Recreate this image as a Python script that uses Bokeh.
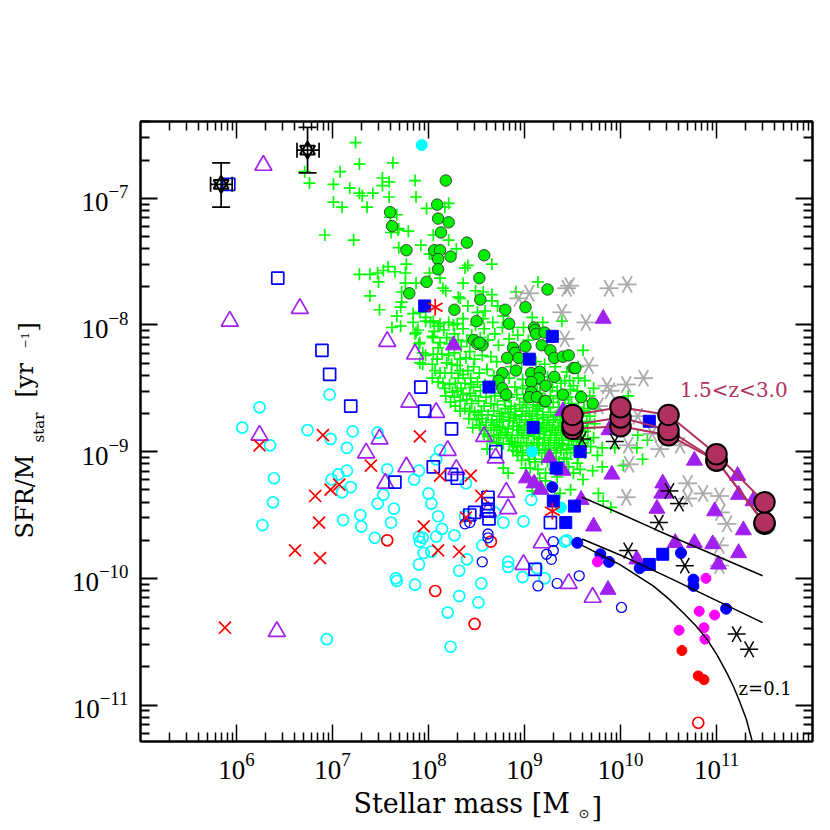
from math import pi
from bokeh.plotting import figure
from bokeh.models import FixedTicker, LogAxis, Label
from bokeh.embed import file_html
from bokeh.resources import INLINE

# All values are log10(stellar mass), log10(sSFR)
star_mass = [5.84, 6.74]
star_ssfr = [-6.89, -6.62]
star_mass_lo = [5.73, 6.63]
star_mass_hi = [5.955, 6.86]
star_ssfr_lo = [-7.07, -6.80]
star_ssfr_hi = [-6.72, -6.44]

open_tri = [(6.28,-6.74),(5.93,-7.97),(6.66,-7.87),(7.57,-8.13),(7.86,-8.23),(7.80,-8.61),(8.08,-8.69),(6.24,-8.87),
            (7.49,-8.90),(7.35,-9.01),(7.77,-9.12),(7.55,-9.25),(6.42,-10.42),(8.20,-8.99),(8.58,-8.88),(8.70,-9.05),
            (8.29,-9.14),(8.81,-9.32),(8.83,-9.45),(8.62,-9.47),(9.18,-9.72),(8.99,-9.89),(9.46,-10.04),(9.71,-10.15)]
open_sq = [(5.92,-6.89),(6.43,-7.63),(6.89,-8.20),(6.97,-8.39),(7.19,-8.64),(7.92,-8.49),(7.96,-8.68),(7.65,-9.24),
           (8.05,-9.12),(8.24,-8.82),(8.70,-9.00),(8.24,-9.18),(8.30,-9.21),(8.62,-9.36),(8.62,-9.41),(8.62,-9.47),
           (8.63,-9.53),(8.48,-9.48),(8.43,-9.50),(9.27,-9.56),(9.11,-9.93)]
open_cyan = [(6.97,-8.55),(6.24,-8.65),(6.06,-8.81),(6.74,-8.83),(7.21,-8.84),(7.47,-8.85),(6.98,-8.90),(6.35,-8.95),
             (7.15,-8.97),(6.39,-9.21),(6.38,-9.40),(6.27,-9.58),(7.15,-9.15),(7.06,-9.18),(6.99,-9.22),(7.10,-9.32),
             (7.19,-9.28),(7.57,-9.14),(7.90,-9.15),(7.85,-9.22),(7.53,-9.34),(7.47,-9.41),(7.64,-9.45),(7.29,-9.50),
             (7.11,-9.54),(7.30,-9.59),(7.61,-9.56),(8.00,-9.33),(8.03,-9.41),(8.10,-9.51),(7.90,-9.67),(7.94,-9.68),
             (8.08,-9.67),(8.14,-9.61),(7.44,-9.68),(7.95,-9.80),(8.03,-9.79),(7.90,-9.89),(7.66,-10.00),(7.67,-10.02),
             (7.86,-10.05),(6.94,-10.48),(8.08,-9.06),(8.12,-8.99),(8.20,-10.27),(8.27,-9.66),(8.39,-9.25),(8.40,-9.85),
             (8.32,-9.94),(8.56,-9.74),(8.55,-10.04),(8.32,-10.14),(8.52,-10.19),(8.23,-10.54),(8.99,-9.55),(8.78,-9.56),
             (8.69,-9.48),(8.38,-9.51),(8.83,-9.87),(8.83,-9.91),(8.98,-9.99),(9.21,-10.00),(9.13,-9.92),(9.44,-9.70),
             (9.42,-9.71),(9.07,-9.38),(7.91,-9.71)]
filled_cyan = [(7.93,-6.58),(9.08,-9.00),(9.38,-9.44)]
red_x = [(5.88,-10.39),(6.24,-8.95),(6.90,-8.87),(7.91,-8.88),(7.40,-9.11),(7.07,-9.26),(6.98,-9.30),(6.82,-9.35),
         (6.86,-9.56),(7.95,-9.59),(6.61,-9.78),(6.87,-9.84),(8.10,-9.78),(8.32,-9.79),(8.12,-9.19),(8.44,-9.19),
         (8.55,-9.35),(8.39,-9.52)]
red_open = [(7.57,-9.70),(8.07,-10.10),(8.65,-9.71),(8.48,-10.36),(10.81,-11.14)]
red_filled = [(10.64,-10.57),(10.81,-10.77),(10.87,-10.80)]
magenta = [(9.76,-9.87),(10.89,-10.00),(10.82,-10.26),(10.98,-10.29),(10.87,-10.39),(10.61,-10.41),(10.88,-10.48)]
blue_filled = [(9.55,-9.72),(9.79,-9.81),(9.88,-9.87),(10.20,-9.92),(10.63,-9.80),(10.76,-10.01),(10.76,-10.06),
               (11.10,-10.24),(9.29,-9.28)]
blue_open = [(8.38,-9.57),(8.43,-9.56),(8.62,-9.65),(8.62,-9.68),(8.56,-9.87),(9.30,-9.71),(9.30,-9.78),(9.23,-9.81),
             (9.28,-9.85),(9.57,-9.98),(9.34,-10.04),(9.14,-10.06),(10.01,-10.23)]
blue_sq = [(7.96,-7.85),(9.29,-8.09),(9.05,-8.27),(8.63,-8.49),(9.09,-8.81),(9.58,-9.00),(9.33,-9.13),(9.30,-9.39),
           (9.52,-9.43),(9.43,-9.56),(10.30,-9.89),(10.44,-9.81),(10.30,-8.76)]
purple_tri = [(8.26,-8.16),(9.82,-7.95),(9.40,-8.68),(9.26,-9.05),(9.02,-9.21),(9.10,-9.25),(9.17,-9.30),(9.40,-9.15),
              (9.59,-9.38),(9.72,-9.59),(10.38,-9.45),(10.57,-9.72),(10.77,-9.72),(10.96,-9.73),(10.17,-9.85),
              (11.23,-9.80),(11.28,-9.62),(11.02,-9.89),(9.87,-10.09),(10.43,-9.33),(10.77,-9.07),(9.88,-8.83),
              (9.91,-9.18),(10.44,-9.25),(10.47,-9.33),(11.22,-9.19),(11.23,-9.34),(11.38,-9.39),(10.98,-9.47)]
gray_ast = [(9.05,-7.75),(8.94,-7.79),(9.44,-7.71),(9.47,-7.69),(9.39,-7.90),(9.64,-7.98),(9.88,-7.71),(10.07,-7.68),
            (9.42,-8.11),(9.67,-8.32),(9.86,-8.48),(9.89,-8.52),(10.06,-8.47),(10.24,-8.42),(9.77,-8.64),(10.18,-8.72),
            (10.08,-8.95),(10.41,-8.98),(10.62,-8.95),(10.33,-8.86),(10.09,-9.10),(10.70,-9.25),(10.86,-9.33),
            (10.70,-9.37),(11.03,-9.35),(10.06,-9.36),(11.04,-9.48),(11.11,-9.57),(11.03,-9.74),(11.03,-9.90)]
black_ast = [(9.60,-8.90),(9.94,-8.92),(10.51,-9.31),(10.61,-9.41),(10.40,-9.56),(10.08,-9.78),(10.67,-9.90),
             (11.21,-10.44),(11.34,-10.56)]
red_ast = [(8.07,-7.86),(9.29,-9.47)]
green_dot = [(8.18,-6.86),(8.09,-7.05),(7.60,-7.11),(8.10,-7.16),(8.21,-7.19),(7.62,-7.22),(8.13,-7.27),(8.40,-7.35),
             (7.77,-7.41),(8.06,-7.41),(8.12,-7.41),(8.23,-7.46),(8.58,-7.45),(8.10,-7.48),(8.10,-7.56),(8.53,-7.63),
             (7.98,-7.66),(9.24,-7.72),(7.80,-7.75),(8.54,-7.80),(9.01,-7.86),(8.27,-7.88),(8.80,-7.88),(8.50,-7.97),
             (8.84,-7.99),(9.10,-8.02),(9.11,-8.04),(9.12,-8.07),(9.21,-8.06),(8.47,-8.12),(8.51,-8.15),(8.56,-8.16),
             (8.53,-8.14),(9.01,-8.17),(8.88,-8.18),(8.90,-8.22),(9.18,-8.16),(9.27,-8.20),(8.82,-8.26),(8.94,-8.26),
             (9.31,-8.26),(9.40,-8.25),(9.46,-8.24),(9.51,-8.34),(9.53,-8.34),(8.77,-8.38),(8.91,-8.36),(9.07,-8.38),
             (9.16,-8.37),(9.15,-8.42),(9.31,-8.41),(8.73,-8.44),(9.07,-8.45),(9.22,-8.48),(8.77,-8.50),(8.81,-8.55),
             (9.07,-8.53),(9.05,-8.57),(9.13,-8.57),(9.21,-8.60),(9.22,-8.60),(9.40,-8.55),(9.59,-8.57),(9.71,-8.62)]
green_plus = [(7.24,-6.56),(7.28,-6.73),(7.63,-6.72),(7.08,-6.79),(6.71,-6.79),(6.76,-6.88),(7.01,-6.89),(7.52,-6.84),
              (7.59,-6.87),(7.52,-6.90),(7.18,-6.92),(7.86,-6.86),(7.28,-6.96),(7.31,-6.98),(7.42,-6.96),(7.59,-6.99),
              (7.87,-6.99),(7.01,-7.03),(7.10,-7.07),(7.36,-7.07),(7.98,-7.08),(7.67,-7.13),(7.60,-7.15),(7.68,-7.25),
              (7.79,-7.26),(7.61,-7.27),(6.92,-7.29),(7.22,-7.33),(8.05,-7.29),(7.69,-7.39),(7.92,-7.37),(8.01,-7.44),
              (7.77,-7.52),(7.58,-7.54),(7.53,-7.57),(7.65,-7.58),(7.28,-7.60),(7.39,-7.60),(7.47,-7.59),(7.48,-7.66),
              (7.76,-7.59),(8.01,-7.59),(7.76,-7.67),(7.72,-7.74),(7.39,-7.77),(7.72,-7.82),(7.87,-7.67),(7.49,-7.88),
              (7.71,-7.86),(7.67,-7.93),(7.84,-7.91),(7.62,-8.02),(7.71,-8.01),(7.84,-7.98),(7.89,-8.04),(7.86,-8.07),
              (7.97,-7.97),(8.05,-7.97),(7.90,-8.15),(8.05,-8.10),(7.94,-8.22),(8.05,-8.23),(7.94,-8.31),(8.07,-8.36),
              (8.04,-8.42),(8.10,-8.18),(8.21,-7.04),(8.17,-7.07),(7.69,-7.24),(8.21,-7.33),(8.29,-7.40),(8.03,-7.44),
              (8.38,-7.55),(8.41,-7.53),(8.66,-7.52),(8.36,-7.67),(9.14,-7.66),(8.49,-7.73),(8.57,-7.74),(8.66,-7.76),
              (8.91,-7.74),(8.12,-7.63),(8.15,-7.71),(8.18,-7.73),(8.31,-7.78),(8.33,-7.79),(8.66,-7.81),(8.41,-7.85),
              (9.08,-7.94),(9.39,-7.97),(9.19,-7.98),(8.72,-7.85),(8.59,-7.89),(8.51,-7.90),(8.78,-7.93),(8.36,-7.95),
              (8.67,-7.98),(8.57,-7.95),(8.99,-8.02),(8.88,-8.02),(8.30,-7.99),(8.21,-7.98),(8.12,-7.99),(7.91,-7.90),
              (7.97,-7.94),(8.02,-7.98),(9.61,-8.20),(9.63,-8.44),(9.51,-8.48),(9.72,-8.50),(10.08,-8.56),(9.68,-8.56),
              (9.66,-8.66),(10.18,-8.87),(10.28,-8.91),(9.81,-8.97),(10.17,-8.97),(9.76,-9.03),(10.23,-9.06),(9.81,-9.12),
              (9.71,-9.15),(10.03,-9.11),(9.61,-9.22),(9.51,-9.17),(9.48,-9.30),(9.77,-9.33),(9.82,-9.39),(9.90,-9.44),
              (9.94,-8.97),(9.44,-9.06),(9.40,-8.94),(9.45,-8.81),(9.58,-8.81),(9.65,-8.76),(9.72,-8.89),(9.66,-8.91),
              (9.58,-8.97),(9.51,-8.97),(9.08,-9.31),(9.37,-9.33),(7.87,-8.06),(7.91,-8.14),(8.04,-8.09),(8.12,-8.14),
              (7.97,-8.24),(7.91,-8.30),(8.04,-8.31),(8.12,-8.38),(8.15,-8.46),(8.19,-8.30),(8.17,-8.50),(8.30,-8.32),
              (8.33,-8.36),(8.31,-8.42),(8.30,-8.52),(8.38,-8.46),(8.23,-8.61),(8.28,-8.64),(8.33,-8.60),(8.38,-8.66),
              (8.43,-8.68),(8.46,-8.81),(8.61,-8.98),(8.75,-8.87),(8.78,-8.94),(8.88,-8.99),(8.93,-9.03),(8.78,-9.13),
              (8.83,-9.17),(9.01,-9.13),(9.16,-9.21),(9.22,-9.23),
              (8.16,-8.04),(8.27,-8.07),(8.36,-8.03),(8.45,-8.08),(8.58,-8.03),(8.69,-8.07),(8.77,-8.02),(8.93,-8.08),
              (9.04,-8.12),(8.22,-8.15),(8.34,-8.17),(8.43,-8.21),(8.62,-8.12),(8.73,-8.16),(8.84,-8.11),(8.97,-8.30),
              (8.21,-8.24),(8.27,-8.22),(8.39,-8.26),(8.48,-8.27),(8.56,-8.24),(8.65,-8.25),(8.71,-8.29),(8.86,-8.33),
              (9.32,-8.33),(9.44,-8.37),(9.38,-8.46),(8.24,-8.38),(8.41,-8.36),(8.47,-8.33),(8.53,-8.38),(8.61,-8.35),
              (8.68,-8.40),(8.84,-8.42),(8.98,-8.43),(9.24,-8.41),(9.47,-8.44),(9.56,-8.42),(8.22,-8.47),(8.44,-8.47),
              (8.51,-8.45),(8.59,-8.47),(8.66,-8.50),(8.90,-8.49),(8.98,-8.50),(9.13,-8.47),(9.29,-8.49),(9.48,-8.51),
              (8.25,-8.53),(8.36,-8.55),(8.43,-8.54),(8.49,-8.56),(8.54,-8.52),(8.60,-8.57),(8.69,-8.56),(8.75,-8.54),
              (8.84,-8.57),(8.92,-8.55),(8.99,-8.58),(9.16,-8.54),(9.27,-8.56),(9.35,-8.58),(9.46,-8.57),(9.55,-8.52),
              (8.45,-8.62),(8.52,-8.60),(8.58,-8.64),(8.65,-8.62),(8.72,-8.63),(8.79,-8.60),(8.86,-8.64),(8.95,-8.63),
              (9.01,-8.61),(9.09,-8.63),(9.16,-8.64),(9.30,-8.61),(9.36,-8.65),(9.49,-8.62),(9.56,-8.65),(9.62,-8.60),
              (8.48,-8.69),(8.55,-8.68),(8.62,-8.71),(8.68,-8.68),(8.76,-8.70),(8.83,-8.69),(8.91,-8.71),(8.98,-8.68),
              (9.05,-8.70),(9.12,-8.68),(9.19,-8.71),(9.27,-8.69),(9.34,-8.71),(9.44,-8.68),(9.52,-8.70),(9.60,-8.72),
              (8.50,-8.75),(8.56,-8.74),(8.60,-8.77),(8.66,-8.75),(8.71,-8.77),(8.78,-8.75),(8.84,-8.76),(8.89,-8.74),
              (8.95,-8.77),(9.01,-8.75),(9.07,-8.76),(9.13,-8.74),(9.19,-8.77),(9.24,-8.75),(9.30,-8.77),(9.37,-8.75),
              (9.42,-8.77),(9.50,-8.75),(9.56,-8.77),(8.54,-8.81),(8.59,-8.83),(8.65,-8.81),(8.71,-8.83),(8.77,-8.81),
              (8.83,-8.82),(8.88,-8.80),(8.94,-8.83),(9.00,-8.81),(9.05,-8.83),(9.11,-8.80),(9.17,-8.82),(9.23,-8.81),
              (9.29,-8.83),(9.35,-8.81),(9.40,-8.83),(9.52,-8.84),(9.63,-8.84),(8.62,-8.88),(8.68,-8.87),(8.73,-8.89),
              (8.82,-8.87),(8.87,-8.89),(8.93,-8.87),(8.99,-8.89),(9.04,-8.87),(9.10,-8.88),(9.16,-8.86),(9.21,-8.89),
              (9.27,-8.87),(9.33,-8.89),(9.39,-8.87),(9.46,-8.89),(9.55,-8.88),(9.61,-8.91),(8.71,-8.93),(8.84,-8.94),
              (8.90,-8.93),(8.96,-8.95),(9.02,-8.93),(9.07,-8.95),(9.13,-8.93),(9.19,-8.95),(9.25,-8.93),(9.31,-8.95),
              (9.36,-8.93),(9.46,-8.95),(9.54,-8.92),(8.92,-9.00),(8.98,-9.01),(9.04,-8.99),(9.10,-9.01),(9.15,-8.99),
              (9.21,-9.01),(9.27,-8.99),(9.33,-9.01),(9.38,-8.99),(9.48,-9.01),(9.56,-9.03),(9.63,-9.01),(8.97,-9.07),
              (9.05,-9.06),(9.11,-9.08),(9.18,-9.06),(9.24,-9.08),(9.30,-9.06),(9.36,-9.08),(9.41,-9.05),(9.55,-9.09),
              (9.06,-9.13),(9.14,-9.14),(9.31,-9.14),(9.38,-9.13),(9.46,-9.12),(9.58,-9.14),(9.22,-9.17),(9.34,-9.20),
              (8.06,-8.05),(8.10,-8.01),(8.19,-8.10),(8.26,-8.00),(8.31,-8.12),(8.40,-8.13),(8.49,-8.00),(8.54,-8.10),
              (8.09,-8.27),(8.14,-8.23),(8.17,-8.38),(8.10,-8.45),(8.24,-8.31),(8.33,-8.27),(8.28,-8.46),(8.36,-8.39),
              (8.44,-8.42),(8.18,-8.56),(8.27,-8.57),(8.34,-8.50),(8.40,-8.59),(8.33,-8.68),(8.42,-8.74),(8.47,-8.49),
              (8.52,-8.71),(8.53,-8.79),(8.58,-8.86),(8.64,-8.92),(8.68,-8.79),(8.74,-8.72),(8.74,-8.80),(8.80,-8.66),
              (8.80,-8.85),(8.85,-8.73),(8.86,-8.92),(8.90,-8.66),(8.92,-8.80),(8.93,-8.96),(8.97,-8.72),(8.97,-8.85),
              (9.02,-8.65),(9.03,-8.79),(9.04,-9.03),(9.08,-8.72),(9.09,-8.85),(9.09,-8.98),(9.14,-8.66),(9.15,-8.78),
              (9.15,-8.90),(9.20,-8.73),(9.20,-8.84),(9.22,-8.98),(9.25,-8.65),(9.26,-8.79),(9.27,-8.91),(9.27,-9.04),
              (9.32,-8.72),(9.32,-8.85),(9.34,-8.97),(9.38,-8.72),(9.38,-8.80),(9.39,-8.91),(9.42,-8.59),(9.43,-8.73),
              (9.43,-8.86),(9.44,-8.98),(9.48,-8.79),(9.49,-8.91),(9.50,-8.66),(9.53,-8.73),(9.53,-8.86),(9.57,-8.71),
              (9.58,-8.84),(9.60,-8.93),(9.62,-8.68),(9.66,-8.81),(9.68,-8.72),(9.69,-8.96),(9.73,-8.78),(9.74,-8.66),
              (9.03,-8.26),(9.12,-8.29),(9.21,-8.31),(9.42,-8.44),(9.56,-8.33),(9.03,-8.48),(9.11,-8.52),(9.34,-8.52)]

big_mass = [9.5, 10.0, 10.5, 11.0, 11.5]
big_a = [-8.71, -8.65, -8.71, -9.02, -9.40]
big_b = [-8.79, -8.73, -8.83, -9.07, -9.56]
big_c = [-8.82, -8.80, -8.87, -9.07, -9.57]

curve1_m = [9.60, 10.00, 10.38, 10.96, 11.48]
curve1_s = [-9.36, -9.49, -9.62, -9.81, -9.98]
curve2_m = [9.60, 10.07, 10.52, 11.04, 11.48]
curve2_s = [-9.69, -9.84, -10.00, -10.19, -10.35]
curve3_m = [9.60, 9.99, 10.34, 10.50, 10.65, 10.78, 10.90, 11.01, 11.11, 11.18, 11.24, 11.31, 11.37]
curve3_s = [-9.74, -9.89, -10.06, -10.16, -10.27, -10.37, -10.48, -10.61, -10.75, -10.86, -10.97, -11.11, -11.28]

major_x = [6, 7, 8, 9, 10, 11]
major_y = [-7, -8, -9, -10, -11]

X_RANGE = (5.0, 12.0)
Y_RANGE = (-11.288, -6.394)
SERIF = "Liberation Serif"
TITLE_FONT = "DejaVu Serif"
PURPLE = "#A020F0"
MAROON = "#B03060"
GREEN = "#00FF00"
DOT_GREEN = "#00F000"
CYAN = "#00FFFF"
BLUE = "#0000FF"
RED = "#FF0000"
MAGENTA = "#FF00FF"
GRAY = "#AAAAAA"


def lin(v):
    return [10.0 ** a for a in v]


def xs(pts):
    return lin([a for a, _ in pts])


def ys(pts):
    return lin([b for _, b in pts])


p = figure(width=822, height=822, x_axis_type="log", y_axis_type="log",
           x_range=tuple(lin(X_RANGE)), y_range=tuple(lin(Y_RANGE)),
           output_backend="svg", toolbar_location=None,
           min_border_left=140, min_border_right=10, min_border_top=121, min_border_bottom=81)
p.xgrid.visible = False
p.ygrid.visible = False
p.outline_line_color = "black"
p.outline_line_width = 2

minor_x = [k * 10.0 ** d for d in range(5, 12) for k in range(2, 10)]
minor_y = [k * 10.0 ** d for d in range(-12, -6) for k in range(2, 10)]
x_ticks = FixedTicker(ticks=lin(major_x), minor_ticks=minor_x)
y_ticks = FixedTicker(ticks=lin(major_y), minor_ticks=minor_y)


def style(ax, width):
    ax.major_tick_in = 17
    ax.major_tick_out = 0
    ax.minor_tick_in = 9
    ax.minor_tick_out = 0
    ax.major_tick_line_width = width
    ax.minor_tick_line_width = width
    ax.major_tick_line_color = "black"
    ax.minor_tick_line_color = "black"
    ax.axis_line_color = "black"
    ax.axis_line_width = 2


xa = p.xaxis[0]
ya = p.yaxis[0]
xa.ticker = x_ticks
ya.ticker = y_ticks
style(xa, 1.5)
style(ya, 2)
for ax in (xa, ya):
    ax.major_label_text_font = SERIF
    ax.major_label_text_font_size = "27px"
    ax.major_label_text_color = "black"
xa.major_label_standoff = 11
ya.major_label_standoff = 12

top = LogAxis(ticker=x_ticks, major_label_overrides={10.0 ** a: "" for a in major_x})
right = LogAxis(ticker=y_ticks, major_label_overrides={10.0 ** a: "" for a in major_y})
style(top, 1.5)
style(right, 2)
top.major_label_text_font_size = "1px"
right.major_label_text_font_size = "1px"
p.add_layout(top, "above")
p.add_layout(right, "right")


def six_arm(pts, size, color, width, first_angle):
    # a six-armed star built of three strokes through each point
    for k in range(3):
        p.scatter(xs(pts), ys(pts), marker="dash", size=size, angle=first_angle + k * pi / 3,
                  line_color=color, line_width=width)


p.scatter(xs(green_plus), ys(green_plus), marker="cross", size=12, line_color=GREEN, line_width=1.7)
six_arm(gray_ast, 19, GRAY, 1.8, 0.0)
p.scatter(xs(open_cyan), ys(open_cyan), marker="circle", size=11, fill_color=None, line_color=CYAN, line_width=1.7)
p.scatter(xs(filled_cyan), ys(filled_cyan), marker="circle", size=11, fill_color=CYAN, line_color=CYAN)
p.scatter(xs(red_open), ys(red_open), marker="circle", size=11, fill_color=None, line_color=RED, line_width=1.7)
p.scatter(xs(blue_open), ys(blue_open), marker="circle", size=10, fill_color=None, line_color=BLUE, line_width=1.3)
p.scatter(xs(green_dot), ys(green_dot), marker="circle", size=11.5, fill_color=DOT_GREEN, line_color="#333333", line_width=0.9)
p.scatter(xs(open_tri), ys(open_tri), marker="triangle", size=17, fill_color=None, line_color=PURPLE, line_width=1.7)
p.scatter(xs(purple_tri), ys(purple_tri), marker="triangle", size=16, fill_color=PURPLE, line_color=PURPLE)
p.scatter(xs(open_sq), ys(open_sq), marker="square", size=12, fill_color=None, line_color=BLUE, line_width=1.7)
p.scatter(xs(blue_sq), ys(blue_sq), marker="square", size=12, fill_color=BLUE, line_color=BLUE)
p.scatter(xs(blue_filled), ys(blue_filled), marker="circle", size=11, fill_color=BLUE, line_color=BLUE)
p.scatter(xs(magenta), ys(magenta), marker="circle", size=10, fill_color=MAGENTA, line_color=MAGENTA)
p.scatter(xs(red_filled), ys(red_filled), marker="circle", size=10, fill_color=RED, line_color=RED)
p.scatter(xs(red_x), ys(red_x), marker="x", size=17, line_color=RED, line_width=1.7)
six_arm(red_ast, 17, RED, 1.7, pi / 2)
six_arm(black_ast, 18, "black", 1.5, 0.0)

for cm, cs in ((curve1_m, curve1_s), (curve2_m, curve2_s), (curve3_m, curve3_s)):
    p.line(lin(cm), lin(cs), line_color="black", line_width=1.5)

sx, sy = lin(star_mass), lin(star_ssfr)
xlo, xhi = lin(star_mass_lo), lin(star_mass_hi)
ylo, yhi = lin(star_ssfr_lo), lin(star_ssfr_hi)
p.segment(sx, ylo, sx, yhi, line_color="black", line_width=1.7)
p.segment(xlo, sy, xhi, sy, line_color="black", line_width=1.7)
p.scatter(sx + sx, ylo + yhi, marker="dash", size=18, line_color="black", line_width=1.7)
p.scatter(xlo + xhi, sy + sy, marker="dash", size=15, angle=pi / 2, line_color="black", line_width=1.7)
p.scatter(sx, sy, marker="triangle", size=15, fill_color=None, line_color="black", line_width=2)
p.scatter(sx, sy, marker="inverted_triangle", size=15, fill_color=None, line_color="black", line_width=2)

for series in (big_c, big_b, big_a):
    p.line(lin(big_mass), lin(series), line_color=MAROON, line_width=2)
for series in (big_c, big_b, big_a):
    p.scatter(lin(big_mass), lin(series), marker="circle", size=20.5, fill_color=MAROON,
              line_color="black", line_width=2)

p.add_layout(Label(x=10.0 ** 10.62, y=10.0 ** -8.51, text="1.5<z<3.0", text_color=MAROON,
                   text_font=TITLE_FONT, text_font_size="20px", text_baseline="alphabetic"))
p.add_layout(Label(x=10.0 ** 11.23, y=10.0 ** -10.87, text="z=0.1", text_color="black",
                   text_font=TITLE_FONT, text_font_size="18px", text_baseline="alphabetic"))

FL, FB = 140, 741


def below(x, y, text, size, base):
    # x, y: wanted page pixels; base: page y of the lower edge of this label's side panel
    p.add_layout(Label(x=x - FL, y=base - y, x_units="screen", y_units="screen", text=text,
                       text_font=TITLE_FONT, text_font_size=size, text_color="black",
                       text_baseline="alphabetic", text_align="left"), "below")


def above(x, y, text, size, base, angle=0.0, font=TITLE_FONT):
    p.add_layout(Label(x=x - FL, y=base - y, x_units="screen", y_units="screen", text=text, angle=angle,
                       text_font=font, text_font_size=size, text_color="black",
                       text_baseline="alphabetic", text_align="left"), "above")


def left(x, y, text, size, base):
    p.add_layout(Label(x=x - base, y=FB - y, x_units="screen", y_units="screen", text=text, angle=pi / 2,
                       text_font=TITLE_FONT, text_font_size=size, text_color="black",
                       text_baseline="alphabetic", text_align="left"), "left")


below(353, 812, "Stellar mass [M", "27px", 821)
above(578, 817, "⊙", "13px", 125, font="DejaVu Sans")
above(591, 812, "]", "27px", 111)
above(38.5, 447, "star", "15px", 80, angle=pi / 2)
above(24, 353, "−1", "11px", 50, angle=pi / 2)
above(27, 334, "]", "24px", 32, angle=pi / 2)
left(37, 538, "SFR/M", "24px", 53)
left(37, 397, "[yr", "24px", 25)

open("out.html", "w").write(file_html(p, INLINE))
